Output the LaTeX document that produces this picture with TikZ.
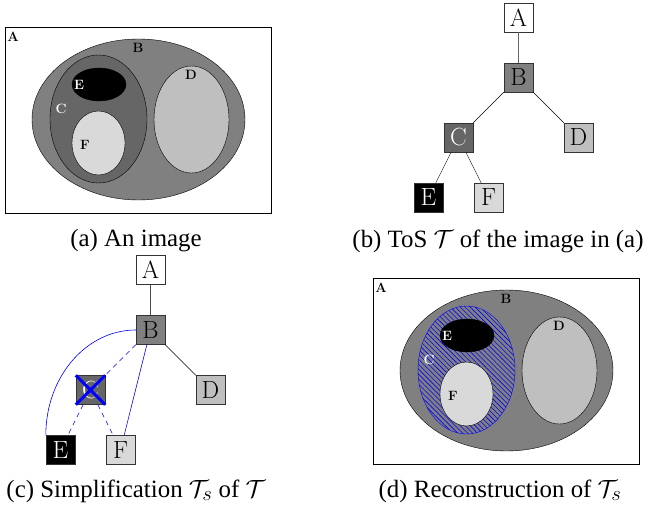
\documentclass[tikz,border=0pt]{standalone}
\usepackage{fontspec}
\newfontfamily\capfont{Liberation Serif}
\usetikzlibrary{patterns.meta}
\newcommand{\colorB}{black!50}
\newcommand{\colorC}{black!60}
\newcommand{\colorD}{black!25}
\newcommand{\colorF}{black!15}
% the image, drawn at the scope origin; #1 = look of region C
\newcommand{\myimage}[1]
{   \draw (0,0) rectangle (266,186);
    \draw[fill=\colorB] (133.5,92.5) ellipse (106.5 and 80.5);
    \draw[#1] (93.5,92) ellipse (48.5 and 64);
    \draw[fill=black] (94,57.5) ellipse (27 and 16.5);
    \draw[fill=\colorF] (93.5,116) ellipse (26.5 and 32);
    \draw[fill=\colorD] (186.5,92.5) ellipse (37.5 and 53.5);
    \node[imglabel] (lA) at (8,10) {A};
    \node[imglabel] (lB) at (133,21) {B};
    \node[imglabel, text=white] (lC) at (56,82) {C};
    \node[imglabel] (lD) at (186,48) {D};
    \node[imglabel, text=white] (lE) at (74,58) {E};
    \node[imglabel] (lF) at (80,118) {F};
}
\tikzset{
  treenode/.style={draw=black!80, minimum size=29pt, inner sep=0pt, font=\Huge},
  imglabel/.style={font=\fontsize{13.5}{13.5}\selectfont\bfseries, inner sep=0pt},
  captext/.style={font=\capfont\Huge},
  simpedge/.style={blue, line width=0.6pt, dash pattern=on 5pt off 4pt},
}
\begin{document}
\begin{tikzpicture}[x=1pt, y=-1pt]
  \useasboundingbox (0,0) rectangle (652,510);

  % (a) the image
  \begin{scope}[shift={(5,27)}]
    \myimage{fill=\colorC}
  \end{scope}

  % (b) the tree of shapes
  \node[treenode, fill=white] (bA) at (518.5,17.5) {A};
  \node[treenode, fill=\colorB] (bB) at (518.5,77.5) {B};
  \node[treenode, fill=\colorC, text=white] (bC) at (458.5,137.5) {C};
  \node[treenode, fill=\colorD] (bD) at (578.5,137.5) {D};
  \node[treenode, fill=black, text=white] (bE) at (428.5,197.5) {E};
  \node[treenode, fill=\colorF] (bF) at (488.5,197.5) {F};
  \draw[black!60] (bA) -- (bB);
  \draw (bB) -- (bC) (bB) -- (bD) (bC) -- (bE) (bC) -- (bF);

  % (c) simplified tree
  \node[treenode, fill=white] (cA) at (150.5,270) {A};
  \node[treenode, fill=\colorB] (cB) at (150.5,330) {B};
  \node[treenode, fill=\colorC, text=white] (cC) at (90.5,390) {C};
  \node[treenode, fill=\colorD] (cD) at (210.5,390) {D};
  \node[treenode, fill=black, text=white] (cE) at (60.5,450) {E};
  \node[treenode, fill=\colorF] (cF) at (120.5,450) {F};
  \draw[black!70] (cA) -- (cB);
  \draw (cB) -- (cD);
  \draw[simpedge] (cB) -- (cC) (cC) -- (cE) (cC) -- (cF);
  \draw[blue, line width=0.6pt] (cB.west) .. controls +(-50,0) and +(0,-58) .. (cE.north west);
  \draw[blue, line width=0.6pt] (cB) -- (cF);
  \draw[blue, line width=3pt] (cC.north west) -- (cC.south east)
    (cC.north east) -- (cC.south west);

  % (d) reconstruction
  \begin{scope}[shift={(373,278)}]
    \myimage{draw=blue, fill=\colorB,
      postaction={pattern={Lines[angle=-45, distance=3.5pt, line width=0.6pt]}, pattern color=blue}}
  \end{scope}

  % captions
  \node[captext] (capa) at (136,241) {(a) An image};
  \node[captext] (capb) at (498,241) {(b) ToS $\mathcal{T}$ of the image in (a)};
  \node[captext] (capc) at (136,491) {(c) Simplification $\mathcal{T}_s$ of $\mathcal{T}$};
  \node[captext] (capd) at (500,491) {(d) Reconstruction of $\mathcal{T}_s$};
\end{tikzpicture}
\end{document}
